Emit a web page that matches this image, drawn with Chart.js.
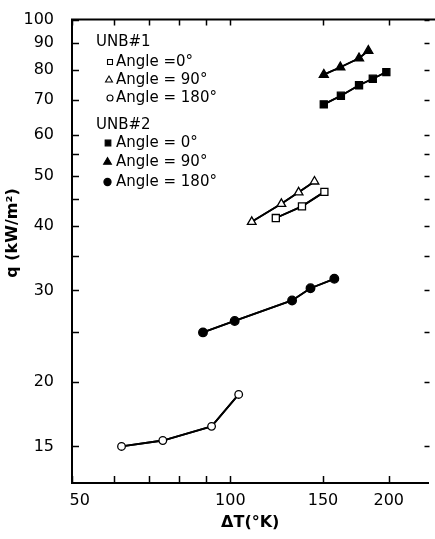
<!DOCTYPE html>
<html><head><meta charset="utf-8">
<script src="https://cdn.jsdelivr.net/npm/chart.js@4/dist/chart.umd.min.js"></script>
<style>html,body{margin:0;padding:0;background:#fff}#wrap{width:435px;height:539px;position:relative}</style>
</head><body><div id="wrap"><canvas id="c" width="435" height="539"></canvas></div>
<script>
// ---- data (ΔT in K, q in kW/m²) ----
const unb1Angle0_dT   = [122, 136.8, 150.9];
const unb1Angle0_q    = [41.4, 43.6, 46.5];
const unb1Angle90_dT  = [109.8, 125, 134.8, 144.5];
const unb1Angle90_q   = [40.7, 44.1, 46.4, 48.7];
const unb1Angle180_dT = [62.1, 74.4, 92.1, 103.7];
const unb1Angle180_q  = [15.0, 15.4, 16.4, 18.9];
const unb2Angle0_dT   = [150.5, 162.2, 175.6, 186.5, 197.9];
const unb2Angle0_q    = [68.6, 71.3, 74.7, 76.9, 79.2];
const unb2Angle90_dT  = [150.5, 161.8, 175.6, 182.9];
const unb2Angle90_q   = [78.3, 80.9, 84.2, 87.1];
const unb2Angle180_dT = [88.7, 101.9, 131, 142, 157.6];
const unb2Angle180_q  = [24.9, 26.2, 28.7, 30.3, 31.6];

const xTickValues = [50, 60, 70, 80, 90, 100, 150, 200];
const xTickLabels = ['   50', '', '', '', '', '100', '150', '200'];
const yTickValues = [15, 20, 25, 30, 35, 40, 45, 50, 55, 60, 70, 80, 90, 100];
const yTickLabels = ['15', '20', '', '30', '', '40', '', '50', '', '60', '70', '80', '90', '100'];

const groupTitles = ['UNB#1', 'UNB#2'];
const legendLabels = ['Angle =0°', 'Angle = 90°', 'Angle = 180°', 'Angle = 0°', 'Angle = 90°', 'Angle = 180°'];

const FONT = "'DejaVu Sans', 'Liberation Sans', sans-serif";

const series = [
  {xs: unb1Angle0_dT,   ys: unb1Angle0_q,   style: 'rect',     filled: false, r: 5},
  {xs: unb1Angle90_dT,  ys: unb1Angle90_q,  style: 'triangle', filled: false, r: 5},
  {xs: unb1Angle180_dT, ys: unb1Angle180_q, style: 'circle',   filled: false, r: 3.8},
  {xs: unb2Angle0_dT,   ys: unb2Angle0_q,   style: 'rect',     filled: true,  r: 5},
  {xs: unb2Angle90_dT,  ys: unb2Angle90_q,  style: 'triangle', filled: true,  r: 5.2},
  {xs: unb2Angle180_dT, ys: unb2Angle180_q, style: 'circle',   filled: true,  r: 4.3}
];

const pts = (xs, ys) => xs.map((x, i) => ({x: x, y: ys[i]}));

const datasets = series.map((s, i) => ({
  label: legendLabels[i], data: pts(s.xs, s.ys), showLine: true,
  borderColor: '#000', borderWidth: 1.8,
  pointStyle: s.style, pointRadius: s.r,
  pointBackgroundColor: s.filled ? '#000' : '#fff', pointBorderColor: '#000', pointBorderWidth: 1.3
}));

const frame = {
  id: 'frame',
  beforeDatasetsDraw(chart) {
    const ctx = chart.ctx, a = chart.chartArea, x = chart.scales.x, y = chart.scales.y;
    ctx.save();
    ctx.strokeStyle = '#000';
    ctx.lineWidth = 2;
    ctx.beginPath();
    ctx.moveTo(a.left - 1, a.top);
    ctx.lineTo(chart.width, a.top);
    ctx.stroke();
    ctx.lineWidth = 1.5;
    ctx.beginPath();
    xTickValues.forEach(v => {
      const px = Math.round(x.getPixelForValue(v)) + 0.5;
      ctx.moveTo(px, a.bottom); ctx.lineTo(px, a.bottom - 7);
      ctx.moveTo(px, a.top); ctx.lineTo(px, a.top + 6);
    });
    yTickValues.forEach(v => {
      const py = Math.round(y.getPixelForValue(v)) + 0.5;
      ctx.moveTo(a.left, py); ctx.lineTo(a.left + 7, py);
      ctx.moveTo(a.right - 4, py); ctx.lineTo(a.right + 1, py);
    });
    ctx.stroke();
    // connecting lines through each dataset's library-placed point elements
    ctx.lineWidth = 1.8;
    ctx.lineJoin = 'round';
    chart.data.datasets.forEach((d, i) => {
      const meta = chart.getDatasetMeta(i);
      const els = meta.data || [];
      if (els.length < 2) return;
      ctx.beginPath();
      els.forEach((p, k) => { if (k === 0) ctx.moveTo(p.x, p.y); else ctx.lineTo(p.x, p.y); });
      ctx.stroke();
    });
    ctx.restore();
  },
  afterDraw(chart) {
    const ctx = chart.ctx;
    ctx.save();
    ctx.fillStyle = '#000';
    ctx.textBaseline = 'middle';
    ctx.save();
    ctx.translate(13, 233);
    ctx.rotate(-Math.PI / 2);
    ctx.textAlign = 'center';
    ctx.font = 'bold 16px ' + FONT;
    ctx.fillText('q (kW/m²)', 0, 0);
    ctx.restore();
    ctx.font = '15px ' + FONT;
    ctx.textAlign = 'left';
    ctx.fillText(groupTitles[0], 96, 42);
    ctx.fillText(groupTitles[1], 96, 125);
    const rowsY = [62, 80, 98, 143, 162, 182];
    const markX = [110, 109, 110, 108, 107.5, 107.5];
    const markR = [3.5, 4, 3, 4, 4.5, 3.6];
    rowsY.forEach((ry, i) => {
      const s = series[i];
      ctx.fillStyle = '#000';
      ctx.fillText(legendLabels[i], 116, ry);
      ctx.save();
      ctx.fillStyle = s.filled ? '#000' : '#fff';
      ctx.strokeStyle = '#000';
      ctx.lineWidth = 1.1;
      Chart.helpers.drawPoint(ctx, {pointStyle: s.style, radius: markR[i], borderWidth: 1.1, rotation: 0}, markX[i], ry);
      ctx.restore();
    });
    ctx.restore();
  }
};

new Chart(document.getElementById('c'), {
  type: 'scatter',
  data: {datasets: datasets},
  options: {
    responsive: false,
    animation: false,
    layout: {padding: {top: 11, right: 2, left: 0, bottom: 0}},
    plugins: {legend: {display: false}, tooltip: {enabled: false}},
    scales: {
      x: {
        type: 'logarithmic', position: 'bottom', min: 50, max: 238,
        afterBuildTicks: s => { s.ticks = xTickValues.map(v => ({value: v})); },
        afterFit: s => { s.height = 56; },
        ticks: {
          autoSkip: false, maxRotation: 0, minRotation: 0, color: '#000', padding: 0,
          font: {family: FONT, size: 16},
          callback: (v, i) => xTickLabels[i]
        },
        grid: {display: false},
        border: {display: true, color: '#000', width: 2},
        title: {display: true, text: 'ΔT(°K)', color: '#000', font: {family: FONT, size: 16, weight: 'bold'}, padding: {top: 2, bottom: 7}}
      },
      y: {
        type: 'logarithmic', position: 'left', min: 12.75, max: 100,
        afterBuildTicks: s => { s.ticks = yTickValues.map(v => ({value: v})); },
        afterFit: s => { s.width = 72; },
        ticks: {
          autoSkip: false, color: '#000', padding: 10,
          font: {family: FONT, size: 16},
          callback: (v, i) => yTickLabels[i]
        },
        grid: {display: false},
        border: {display: true, color: '#000', width: 2}
      }
    }
  },
  plugins: [frame]
});
</script>
</body></html>
